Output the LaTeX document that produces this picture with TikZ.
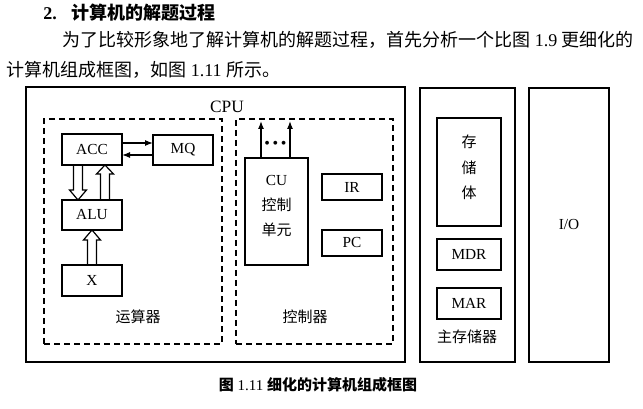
\documentclass[tikz,border=0pt]{standalone}
\usepackage{fontspec}
\setmainfont{Liberation Serif}
\newfontfamily\cjk{Noto Sans CJK SC}
\usetikzlibrary{fit,calc,arrows.meta}
\newcommand\harrow[3]{\draw[hol] ($(#1)+(-4.5,0)$) -- ($(#2)+(-4.5,#3)$) -- ($(#2)+(-8.5,#3)$) -- (#2) -- ($(#2)+(8.5,#3)$) -- ($(#2)+(4.5,#3)$) -- ($(#1)+(4.5,0)$);}
\begin{document}
\begin{tikzpicture}[x=0.75pt,y=-0.75pt,
  bx/.style={draw, line width=1.4pt, inner sep=0pt, outer sep=0pt},
  obx/.style={draw, line width=1pt, inner sep=0pt, outer sep=0pt},
  dbx/.style={draw, line width=1pt, dash pattern=on 4.5pt off 3pt, inner sep=0pt, outer sep=0pt},
  lt/.style={font=\fontsize{11.5pt}{13pt}\selectfont, inner sep=0pt},
  ct/.style={font=\fontsize{11.25pt}{13pt}\selectfont\cjk, inner sep=0pt},
  hol/.style={draw, line width=0.9pt, line join=miter},
  arr/.style={draw, line width=0.9pt, -{Latex[length=6pt,width=4.5pt]}},
  txt/.style={font=\fontsize{13.5pt}{16pt}\selectfont, inner sep=0pt}]
\useasboundingbox (0,0) rectangle (643,409);

% header text
\node[txt, anchor=west] (title) at (43,13) {\textbf{2.}\hspace{11pt}{\cjk\bfseries 计算机的解题过程}};
\node[txt, anchor=west] (line2) at (62,40) {{\cjk 为了比较形象地了解计算机的解题过程，首先分析一个比图} 1.9 {\cjk 更细化的}};
\node[txt, anchor=west] (line3) at (6,70) {{\cjk 计算机组成框图，如图} 1.11 {\cjk 所示。}};

% outer boxes
\node[obx, fit={(26,87) (405,362)}] (cpu) {};
\node[obx, fit={(420,88) (515,362)}] (mem) {};
\node[obx, fit={(529,88) (609,362)}, label={[lt]center:I/O}] (io) {};
\node[font=\fontsize{13pt}{15pt}\selectfont, inner sep=0pt] (cpulab) at (227,107) {CPU};

% dashed boxes
\node[dbx, fit={(44,119) (222,344)}] (alup) {};
\node[dbx, fit={(236,119) (393,344)}] (ctl) {};
\node[ct] (alulab) at (138,317) {运算器};
\node[ct] (ctllab) at (305,317) {控制器};

% ALU part
\node[bx, fit={(62,134) (122,165)}, label={[lt]center:ACC}] (acc) {};
\node[bx, fit={(153,135) (213,165)}, label={[lt]center:MQ}] (mq) {};
\node[bx, fit={(62,200) (122,230)}, label={[lt]center:ALU}] (alu) {};
\node[bx, fit={(62,265) (122,296)}, label={[lt]center:X}] (x) {};

\coordinate (a1) at ($(acc.east)+(0,-6.5)$);
\coordinate (a2) at ($(acc.east)+(0,5.5)$);
\draw[arr] (a1) -- (a1 -| mq.west);
\draw[arr] (a2 -| mq.west) -- (a2);

\coordinate (h1a) at ($(acc.south)+(-14,0)$);
\coordinate (h1b) at ($(alu.north)+(-14,0)$);
\harrow{h1a}{h1b}{-10}
\coordinate (h2a) at ($(alu.north)+(13,0)$);
\coordinate (h2b) at ($(acc.south)+(13,0)$);
\harrow{h2a}{h2b}{9}
\coordinate (h3a) at (x.north);
\coordinate (h3b) at (alu.south);
\harrow{h3a}{h3b}{10}

% control part
\node[bx, fit={(245,158) (308,265)}] (cu) {};
\node[lt] (cu1) at (276.5,181) {CU};
\node[ct] (cu2) at (276.5,205) {控制};
\node[ct] (cu3) at (276.5,230) {单元};
\node[bx, fit={(322,174) (382,200)}, label={[lt]center:IR}] (ir) {};
\node[bx, fit={(322,230) (382,256)}, label={[lt]center:PC}] (pc) {};
\coordinate (c1) at ($(cu.north)+(-15.5,0)$);
\coordinate (c2) at ($(cu.north)+(13.5,0)$);
\draw[arr] (c1) -- ($(c1 |- ctl.north)+(0,2)$);
\draw[arr] (c2) -- ($(c2 |- ctl.north)+(0,2)$);
\node[font=\fontsize{12pt}{14pt}\selectfont, inner sep=0pt] (dots) at (275.5,145) {•\hspace{2pt}•\hspace{2pt}•};

% memory part
\node[bx, fit={(437,118) (501,226)}] (store) {};
\node[ct] (s1) at (469,142) {存};
\node[ct] (s2) at (469,168) {储};
\node[ct] (s3) at (469,193) {体};
\node[bx, fit={(437,239) (501,270)}, label={[lt]center:MDR}] (mdr) {};
\node[bx, fit={(437,288) (501,319)}, label={[lt]center:MAR}] (mar) {};
\node[ct] (memlab) at (467,337) {主存储器};

% caption
\node[font=\fontsize{11.25pt}{13pt}\selectfont, inner sep=0pt] (cap) at (318,385) {{\cjk\bfseries 图} 1.11 {\cjk\bfseries 细化的计算机组成框图}};
\end{tikzpicture}
\end{document}
